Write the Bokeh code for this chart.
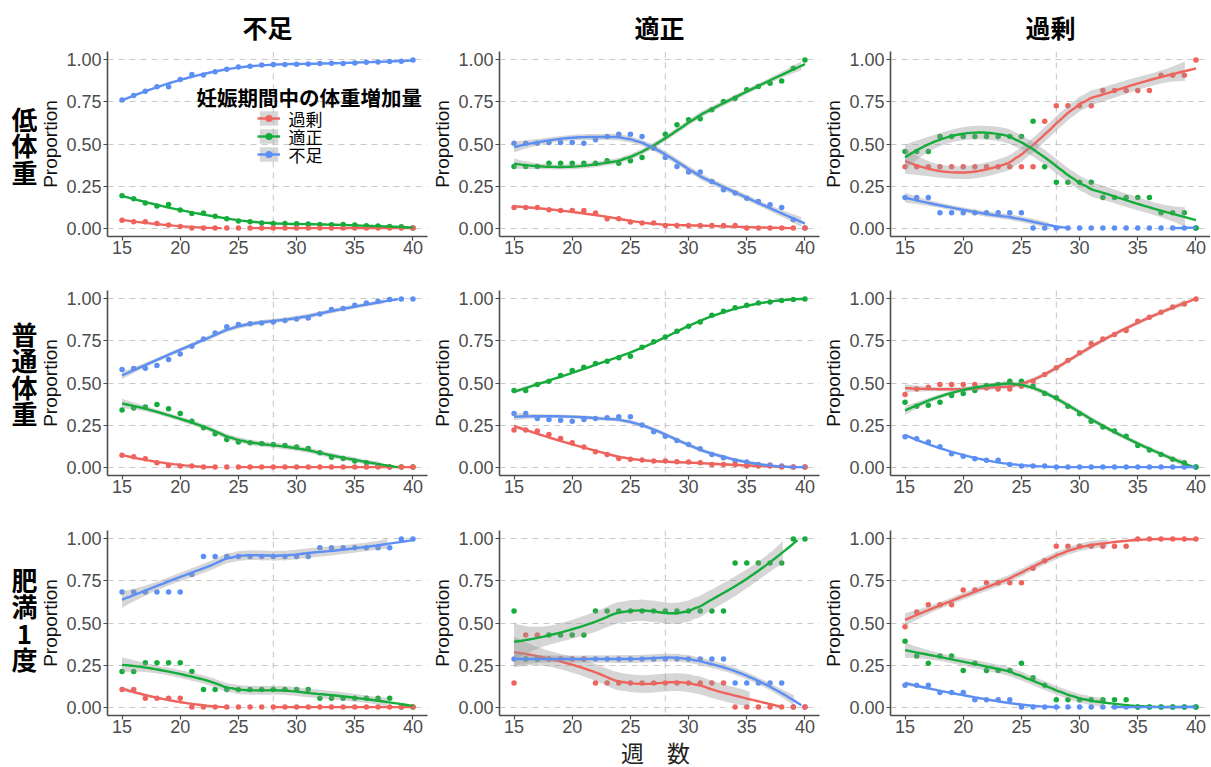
import numpy as np
from bokeh.plotting import figure
from bokeh.layouts import row, column
from bokeh.models import (Range1d, FixedTicker, NumeralTickFormatter, Span, Label,
                          Legend, LegendItem)
from bokeh.embed import file_html
from bokeh.resources import INLINE

# ---------------- data ----------------
weeks = [15, 16, 17, 18, 19, 20, 21, 22, 23, 24, 25, 26, 27, 28, 29, 30,
         31, 32, 33, 34, 35, 36, 37, 38, 39, 40]
col_titles = ["不足", "適正", "過剰"]
row_titles = ["低\n体\n重", "普\n通\n体\n重", "肥\n満\n1\n度"]
series_labels = ["過剰", "適正", "不足"]
series_colors = ["#F0635D", "#14AC3A", "#5C8FF5"]
legend_title = "妊娠期間中の体重増加量"
x_title = "週　数"
y_title = "Proportion"
x_ticks = [15, 20, 25, 30, 35, 40]
y_ticks = [0, 0.25, 0.5, 0.75, 1.0]
ref_week = 28

# row 1: 低体重
p11_over = [0.046, 0.038, 0.037, 0.028, 0.018, 0.010, 0, 0, 0, 0, 0, 0, 0, 0, 0, 0, 0, 0, 0, 0, 0, 0, 0, 0, 0, 0]
p11_adeq = [0.192, 0.174, 0.149, 0.131, 0.141, 0.107, 0.087, 0.089, 0.071, 0.055, 0.042, 0.038, 0.030, 0.028, 0.027, 0.026, 0.024, 0.022, 0.020, 0.022, 0.018, 0.014, 0.012, 0.010, 0.008, 0.0]
p11_short = [0.762, 0.788, 0.814, 0.841, 0.841, 0.883, 0.913, 0.911, 0.929, 0.945, 0.958, 0.962, 0.970, 0.972, 0.973, 0.974, 0.976, 0.978, 0.980, 0.978, 0.982, 0.986, 0.988, 0.990, 0.992, 1.0]

p12_over = [0.123, 0.123, 0.123, 0.109, 0.105, 0.105, 0.105, 0.089, 0.055, 0.055, 0.036, 0.030, 0.030, 0.016, 0.016, 0.016, 0.016, 0.016, 0.016, 0.016, 0, 0, 0, 0, 0, 0]
p12_adeq = [0.366, 0.366, 0.366, 0.386, 0.386, 0.386, 0.386, 0.386, 0.400, 0.386, 0.400, 0.420, 0.479, 0.558, 0.614, 0.644, 0.650, 0.703, 0.752, 0.772, 0.822, 0.842, 0.861, 0.875, 0.950, 1.0]
p12_short = [0.505, 0.505, 0.505, 0.509, 0.509, 0.509, 0.505, 0.525, 0.545, 0.558, 0.558, 0.545, 0.475, 0.420, 0.366, 0.333, 0.333, 0.277, 0.228, 0.208, 0.178, 0.158, 0.139, 0.123, 0.050, 0.0]

p13_over = [0.364, 0.364, 0.364, 0.364, 0.364, 0.364, 0.364, 0.364, 0.364, 0.364, 0.364, 0.364, 0.636, 0.727, 0.727, 0.727, 0.727, 0.818, 0.818, 0.818, 0.818, 0.818, 0.909, 0.909, 0.909, 1.0]
p13_adeq = [0.455, 0.455, 0.455, 0.545, 0.545, 0.545, 0.545, 0.545, 0.545, 0.545, 0.545, 0.636, 0.364, 0.273, 0.273, 0.273, 0.273, 0.182, 0.182, 0.182, 0.182, 0.182, 0.091, 0.091, 0.091, 0.0]
p13_short = [0.182, 0.182, 0.182, 0.091, 0.091, 0.091, 0.091, 0.091, 0.091, 0.091, 0.091, 0, 0, 0, 0, 0, 0, 0, 0, 0, 0, 0, 0, 0, 0, 0]

# row 2: 普通体重
p21_over = [0.071, 0.061, 0.050, 0.026, 0.010, 0.006, 0.006, 0, 0, 0, 0, 0, 0, 0, 0, 0, 0, 0, 0, 0, 0, 0, 0, 0, 0, 0]
p21_adeq = [0.339, 0.352, 0.358, 0.372, 0.347, 0.319, 0.273, 0.234, 0.198, 0.164, 0.149, 0.145, 0.141, 0.135, 0.129, 0.119, 0.111, 0.085, 0.059, 0.051, 0.036, 0.026, 0.006, 0, 0, 0]
p21_short = [0.580, 0.586, 0.588, 0.604, 0.640, 0.673, 0.719, 0.762, 0.798, 0.834, 0.848, 0.853, 0.857, 0.863, 0.871, 0.881, 0.887, 0.911, 0.937, 0.943, 0.962, 0.976, 0.986, 0.996, 1.0, 1.0]

p22_over = [0.220, 0.220, 0.214, 0.194, 0.170, 0.145, 0.119, 0.091, 0.075, 0.051, 0.046, 0.042, 0.036, 0.036, 0.032, 0.030, 0.026, 0.016, 0.016, 0.016, 0.006, 0.006, 0.006, 0, 0, 0]
p22_adeq = [0.455, 0.455, 0.491, 0.511, 0.545, 0.574, 0.594, 0.616, 0.630, 0.650, 0.659, 0.713, 0.745, 0.774, 0.808, 0.838, 0.863, 0.903, 0.927, 0.947, 0.962, 0.976, 0.982, 0.990, 0.996, 1.0]
p22_short = [0.319, 0.319, 0.289, 0.283, 0.279, 0.273, 0.283, 0.289, 0.293, 0.299, 0.299, 0.250, 0.210, 0.184, 0.158, 0.135, 0.109, 0.075, 0.055, 0.036, 0.030, 0.016, 0.012, 0.006, 0, 0]

p23_over = [0.432, 0.465, 0.475, 0.491, 0.491, 0.491, 0.491, 0.471, 0.465, 0.465, 0.481, 0.511, 0.550, 0.590, 0.634, 0.680, 0.733, 0.762, 0.788, 0.812, 0.867, 0.891, 0.921, 0.952, 0.970, 1.0]
p23_adeq = [0.386, 0.362, 0.368, 0.386, 0.426, 0.438, 0.455, 0.485, 0.491, 0.511, 0.511, 0.481, 0.438, 0.412, 0.362, 0.317, 0.273, 0.238, 0.214, 0.184, 0.129, 0.101, 0.075, 0.046, 0.026, 0.0]
p23_short = [0.180, 0.168, 0.149, 0.121, 0.079, 0.065, 0.050, 0.040, 0.040, 0.016, 0.006, 0.006, 0.006, 0, 0, 0, 0, 0, 0, 0, 0, 0, 0, 0, 0, 0]

# row 3: 肥満1度
p31_over = [0.105, 0.105, 0.053, 0.053, 0.053, 0.053, 0, 0, 0, 0, 0, 0, 0, 0, 0, 0, 0, 0, 0, 0, 0, 0, 0, 0, 0, 0]
p31_adeq = [0.211, 0.211, 0.263, 0.263, 0.263, 0.263, 0.211, 0.105, 0.105, 0.105, 0.105, 0.105, 0.105, 0.105, 0.105, 0.105, 0.105, 0.053, 0.053, 0.053, 0.053, 0.053, 0.053, 0.053, 0, 0]
p31_short = [0.684, 0.684, 0.684, 0.684, 0.684, 0.684, 0.789, 0.895, 0.895, 0.895, 0.895, 0.895, 0.895, 0.895, 0.895, 0.895, 0.895, 0.947, 0.947, 0.947, 0.947, 0.947, 0.947, 0.947, 1.0, 1.0]

p32_over = [0.143, 0.429, 0.429, 0.286, 0.286, 0.286, 0.286, 0.143, 0.143, 0.143, 0.143, 0.143, 0.143, 0.143, 0.143, 0.143, 0.143, 0.143, 0.143, 0, 0, 0, 0, 0, 0, 0]
p32_adeq = [0.571, 0.286, 0.286, 0.429, 0.429, 0.429, 0.429, 0.571, 0.571, 0.571, 0.571, 0.571, 0.571, 0.571, 0.571, 0.571, 0.571, 0.571, 0.571, 0.857, 0.857, 0.857, 0.857, 0.857, 1.0, 1.0]
p32_short = [0.286, 0.286, 0.286, 0.286, 0.286, 0.286, 0.286, 0.286, 0.286, 0.286, 0.286, 0.286, 0.286, 0.286, 0.286, 0.286, 0.286, 0.286, 0.286, 0.143, 0.143, 0.143, 0.143, 0.143, 0, 0]

p33_over = [0.478, 0.565, 0.609, 0.609, 0.609, 0.696, 0.696, 0.739, 0.739, 0.739, 0.739, 0.826, 0.870, 0.957, 0.957, 0.957, 0.957, 0.957, 0.957, 0.957, 1.0, 1.0, 1.0, 1.0, 1.0, 1.0]
p33_adeq = [0.391, 0.304, 0.261, 0.304, 0.304, 0.217, 0.261, 0.217, 0.217, 0.217, 0.261, 0.174, 0.130, 0.043, 0.043, 0.043, 0.043, 0.043, 0.043, 0.043, 0, 0, 0, 0, 0, 0]
p33_short = [0.130, 0.130, 0.130, 0.087, 0.087, 0.087, 0.043, 0.043, 0.043, 0.043, 0, 0, 0, 0, 0, 0, 0, 0, 0, 0, 0, 0, 0, 0, 0, 0]

panels = [
    [(p11_over, p11_adeq, p11_short), (p12_over, p12_adeq, p12_short), (p13_over, p13_adeq, p13_short)],
    [(p21_over, p21_adeq, p21_short), (p22_over, p22_adeq, p22_short), (p23_over, p23_adeq, p23_short)],
    [(p31_over, p31_adeq, p31_short), (p32_over, p32_adeq, p32_short), (p33_over, p33_adeq, p33_short)],
]

SPAN = 0.75


def loess(x, y, xs, span):
    x = np.asarray(x, float)
    y = np.asarray(y, float)
    n = len(x)
    q = int(np.floor(n * span))

    def kernel(x0):
        d = np.abs(x - x0)
        h = max(np.sort(d)[q - 1], 1e-9) * 1.0001
        u = np.clip(d / h, 0, 1)
        w = (1 - u ** 3) ** 3
        X = np.column_stack([np.ones(n), x - x0, (x - x0) ** 2])
        XtW = X.T * w
        return np.linalg.solve(XtW @ X, XtW)[0]

    L = np.array([kernel(v) for v in x])
    Ls = np.array([kernel(v) for v in xs])
    fit = Ls @ y
    R = np.eye(n) - L
    M = R.T @ R
    d1 = np.trace(M)
    d2 = np.trace(M @ M)
    sigma = np.sqrt(np.sum((R @ y) ** 2) / d1)
    df = d1 ** 2 / d2
    z = 1.959964
    t = (z + (z ** 3 + z) / (4 * df) + (5 * z ** 5 + 16 * z ** 3 + 3 * z) / (96 * df ** 2)
         + (3 * z ** 7 + 19 * z ** 5 + 17 * z ** 3 - 15 * z) / (384 * df ** 3))
    se = sigma * np.sqrt(np.sum(Ls ** 2, axis=1))
    return fit, fit - t * se, fit + t * se


def runs(mask):
    out = []
    start = None
    for i, m in enumerate(mask):
        if m and start is None:
            start = i
        if not m and start is not None:
            out.append((start, i - 1))
            start = None
    if start is not None:
        out.append((start, len(mask) - 1))
    return out


FW, FH = 320, 185
LABEL_W = 37
LEFTS = [70, 70, 70]
RIGHTS = [2, 1, 0]
TOPS = [51, 27, 27]
BOTTOMS = [27, 28, 24]
ROW_LABEL_SHIFT = [28, 18, 20]
FOOT_H = 27
TICK_FONT = "Liberation Sans"
CJK = "Noto Sans CJK JP"
MIXED = "Liberation Sans, Noto Sans CJK JP"
xs_grid = np.linspace(weeks[0], weeks[-1], 80)

# legend geometry (screen px, relative to the first panel's frame)
LEG_X, LEG_Y, KEY_W, KEY_H = 150, 73, 23, 18


def blank(width, height):
    b = figure(width=width, height=height, x_range=Range1d(0, width), y_range=Range1d(0, height),
               x_axis_type=None, y_axis_type=None, output_backend="svg", toolbar_location=None,
               min_border_left=0, min_border_right=0, min_border_top=0, min_border_bottom=0)
    b.outline_line_color = None
    b.background_fill_color = "white"
    b.border_fill_color = "white"
    b.xgrid.visible = False
    b.ygrid.visible = False
    return b


rows = []
for r in range(3):
    row_h = TOPS[r] + FH + BOTTOMS[r]
    lab = blank(LABEL_W, row_h)
    lab.add_layout(Label(x=24, y=BOTTOMS[r] + FH / 2 - ROW_LABEL_SHIFT[r],
                         x_units="screen", y_units="screen",
                         text=row_titles[r], text_font=CJK, text_font_size="26px",
                         text_font_style="bold", text_align="center",
                         text_baseline="middle", text_line_height=0.72,
                         text_color="black"))
    figs = [lab]
    for c in range(3):
        p = figure(width=LEFTS[c] + FW + RIGHTS[c], height=row_h,
                   x_range=Range1d(13.75, 41.25), y_range=Range1d(-0.05, 1.05),
                   output_backend="svg", toolbar_location=None,
                   min_border_left=LEFTS[c], min_border_right=RIGHTS[c],
                   min_border_top=TOPS[r], min_border_bottom=BOTTOMS[r])
        p.outline_line_color = None
        p.background_fill_color = "white"
        p.border_fill_color = "white"
        p.xgrid.visible = False
        p.ygrid.ticker = FixedTicker(ticks=y_ticks)
        p.ygrid.grid_line_color = "#C9C9C9"
        p.ygrid.grid_line_dash = "6 5"
        p.ygrid.grid_line_width = 1
        p.xaxis.ticker = FixedTicker(ticks=x_ticks)
        p.yaxis.ticker = FixedTicker(ticks=y_ticks)
        p.yaxis.formatter = NumeralTickFormatter(format="0.00")
        for ax in (p.xaxis, p.yaxis):
            ax.axis_line_color = "#4D4D4D"
            ax.axis_line_width = 1.6
            ax.major_tick_line_color = "#4D4D4D"
            ax.major_tick_line_width = 1.2
            ax.major_tick_in = 0
            ax.major_tick_out = 4
            ax.minor_tick_line_color = None
            ax.major_label_text_font = TICK_FONT
            ax.major_label_text_font_size = "18px"
            ax.major_label_text_color = "#4D4D4D"
        p.xaxis.major_label_standoff = 0
        p.yaxis.major_label_standoff = 2
        p.yaxis.axis_label = y_title
        p.yaxis.axis_label_text_font = TICK_FONT
        p.yaxis.axis_label_text_font_size = "19px"
        p.yaxis.axis_label_text_font_style = "normal"
        p.yaxis.axis_label_text_color = "#111111"
        p.yaxis.axis_label_standoff = 2

        if r == 0:
            p.title.text = col_titles[c]
            p.title.align = "center"
            p.title.text_font = CJK
            p.title.text_font_size = "25px"
            p.title.text_font_style = "bold"
            p.title.text_color = "black"
            p.title.standoff = 13

        p.add_layout(Span(location=ref_week, dimension="height", line_color="#C4C4C4",
                          line_dash="6 5", line_width=1, level="underlay"))

        data = panels[r][c]
        pts = {}
        for k in (2, 1, 0):
            pts[k] = p.scatter(weeks, data[k], size=5.5, color=series_colors[k], line_width=0)
        bands, lines = {}, {}
        for k in (0, 1, 2):
            fit, lo, hi = loess(weeks, data[k], xs_grid, SPAN)
            valid = (fit >= -1e-3) & (fit <= 1 + 1e-3)
            bvalid = valid & (lo >= 0) & (hi <= 1)
            pxs, pys = [], []
            for a, b in runs(bvalid):
                if b > a:
                    xx = list(xs_grid[a:b + 1]) + list(xs_grid[a:b + 1][::-1])
                    yy = list(hi[a:b + 1]) + list(lo[a:b + 1][::-1])
                    pxs.append(xx)
                    pys.append(yy)
            bands[k] = p.patches(xs=pxs, ys=pys, fill_color="#999999", fill_alpha=0.4,
                                 line_color=None)
            yline = np.where(valid, np.clip(fit, 0, 1), np.nan)
            lines[k] = p.line(xs_grid, yline, line_width=2.4, color=series_colors[k])

        if r == 0 and c == 0:
            # legend keys (glyphs only); texts are drawn as labels beside them
            items = [LegendItem(label=" ", renderers=[bands[k], lines[k], pts[k]])
                     for k in (0, 1, 2)]
            leg = Legend(items=items, location=(LEG_X, LEG_Y), orientation="vertical",
                         padding=0, margin=0, spacing=0, glyph_width=KEY_W, glyph_height=KEY_H,
                         label_height=KEY_H, label_width=0, label_standoff=0,
                         label_text_font_size="1px", border_line_alpha=0,
                         background_fill_alpha=0)
            p.add_layout(leg)
            for i, k in enumerate((0, 1, 2)):
                p.add_layout(Label(x=LEG_X + KEY_W + 8, y=LEG_Y + 3 * KEY_H - KEY_H / 2 - i * KEY_H,
                                   x_units="screen", y_units="screen", text=series_labels[k],
                                   text_font=CJK, text_font_size="17px", text_align="left",
                                   text_baseline="middle", text_color="black"))
            p.add_layout(Label(x=89, y=140, x_units="screen", y_units="screen",
                               text=legend_title, text_font=CJK, text_font_size="20.5px",
                               text_font_style="bold", text_align="left",
                               text_baseline="middle", text_color="black"))
        figs.append(p)
    rows.append(row(*figs))

total_w = LABEL_W + sum(LEFTS) + 3 * FW + sum(RIGHTS)
foot = blank(total_w, FOOT_H)
foot.add_layout(Label(x=655, y=FOOT_H / 2 - 1, x_units="screen", y_units="screen", text=x_title,
                      text_font=MIXED, text_font_size="23px", text_align="center",
                      text_baseline="middle", text_color="#222222"))
rows.append(foot)

layout = column(*rows)
open("out.html", "w").write(file_html(layout, INLINE, title="妊娠期間中の体重増加量"))
